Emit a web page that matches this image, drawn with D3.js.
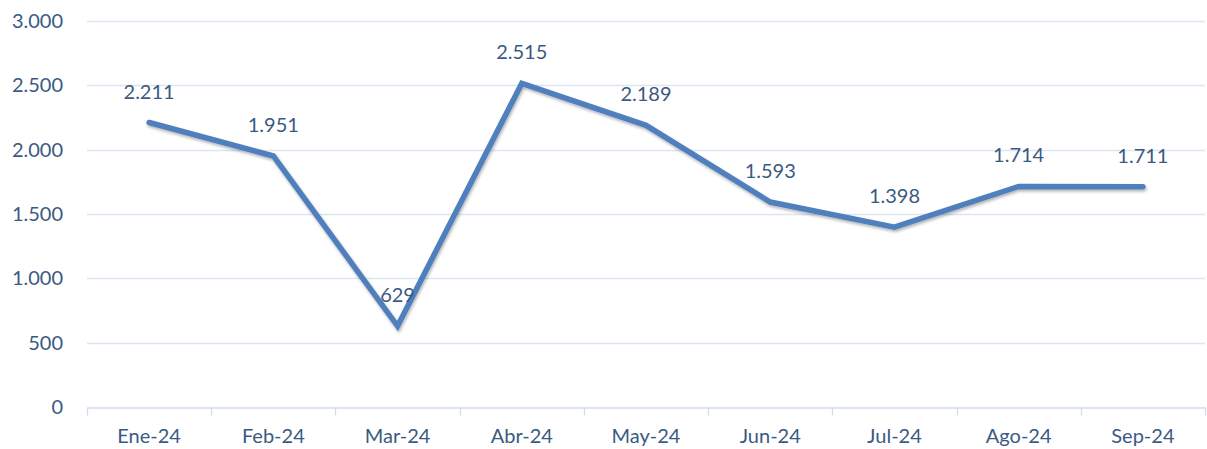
<!DOCTYPE html>
<html>
<head>
<meta charset="utf-8">
<script src="https://cdn.jsdelivr.net/npm/d3@7"></script>
<style>
  body { margin: 0; background: #fff; }
  text { font-family: Lato, "Open Sans", sans-serif; fill: #3b5a82; }
</style>
</head>
<body>
<div id="chart"></div>
<script>
const months = ['Ene-24', 'Feb-24', 'Mar-24', 'Abr-24', 'May-24', 'Jun-24', 'Jul-24', 'Ago-24', 'Sep-24'];
const values = [2211, 1951, 629, 2515, 2189, 1593, 1398, 1714, 1711];
const yTicks = [0, 500, 1000, 1500, 2000, 2500, 3000];

(function() {
  'use strict';

  let width = 1207,
      height = 449,
      margin = { top: 21, right: 2, bottom: 42, left: 87 },
      dots = v => String(v).replace(/\B(?=(\d{3})+(?!\d))/g, '.'),

      svg = d3.select('#chart')
        .append('svg')
        .attr('width', width)
        .attr('height', height),

      x = d3.scaleBand()
        .domain(months)
        .range([margin.left, width - margin.right]),

      y = d3.scaleLinear()
        .domain([0, 3000])
        .range([height - margin.bottom, margin.top]);

  // soft shadow under the line
  let filter = svg.append('defs').append('filter')
    .attr('id', 'shadow')
    .attr('x', '-10%').attr('y', '-10%')
    .attr('width', '120%').attr('height', '130%');
  filter.append('feDropShadow')
    .attr('dx', 1).attr('dy', 2)
    .attr('stdDeviation', 1.5)
    .attr('flood-color', '#000')
    .attr('flood-opacity', 0.3);

  // gridlines
  svg.append('g')
    .selectAll('line')
    .data(yTicks.filter(d => d > 0))
    .enter()
    .append('line')
      .attr('x1', margin.left)
      .attr('x2', width - margin.right)
      .attr('y1', d => Math.round(y(d)) + 0.5)
      .attr('y2', d => Math.round(y(d)) + 0.5)
      .style('stroke', '#dce7f3')
      .style('stroke-width', 1.3);

  // y labels
  svg.append('g')
    .selectAll('text')
    .data(yTicks)
    .enter()
    .append('text')
      .attr('x', 63)
      .attr('y', d => y(d))
      .attr('dy', '0.35em')
      .attr('text-anchor', 'end')
      .style('font-size', '20px')
      .text(d => dots(d));

  // x axis
  let xAxis = d3.axisBottom(x)
    .tickSize(0)
    .tickPadding(21);

  let gx = svg.append('g')
    .attr('transform', `translate(0,${Math.round(y(0)) + 0.5})`)
    .call(xAxis);
  gx.select('.domain').style('stroke', '#d0dded').style('stroke-width', 1.3);
  gx.selectAll('text')
    .style('font-size', '20px')
    .style('fill', '#3b5a82')
    .style('font-family', 'Lato, "Open Sans", sans-serif');

  // category separators
  gx.append('g')
    .selectAll('line')
    .data(months.map(m => x(m)).concat([width - margin.right]))
    .enter()
    .append('line')
      .attr('x1', d => Math.round(d) + 0.5)
      .attr('x2', d => Math.round(d) + 0.5)
      .attr('y1', 0)
      .attr('y2', 8)
      .style('stroke', '#d0dded')
      .style('stroke-width', 1.3);

  let cx = d => x(d) + x.bandwidth() / 2;

  // the line
  let line = d3.line()
    .x((d, i) => cx(months[i]))
    .y(d => y(d));

  svg.append('path')
    .datum(values)
    .attr('d', line)
    .attr('fill', 'none')
    .attr('stroke', '#4f7fbc')
    .attr('stroke-width', 5.5)
    .attr('stroke-linejoin', 'miter')
    .attr('stroke-linecap', 'round')
    .attr('filter', 'url(#shadow)');

  // data labels
  svg.append('g')
    .selectAll('text')
    .data(values)
    .enter()
    .append('text')
      .attr('x', (d, i) => cx(months[i]))
      .attr('y', d => y(d) - 31)
      .attr('dy', '0.35em')
      .attr('text-anchor', 'middle')
      .style('font-size', '20px')
      .text(d => dots(d));
})();
</script>
</body>
</html>
